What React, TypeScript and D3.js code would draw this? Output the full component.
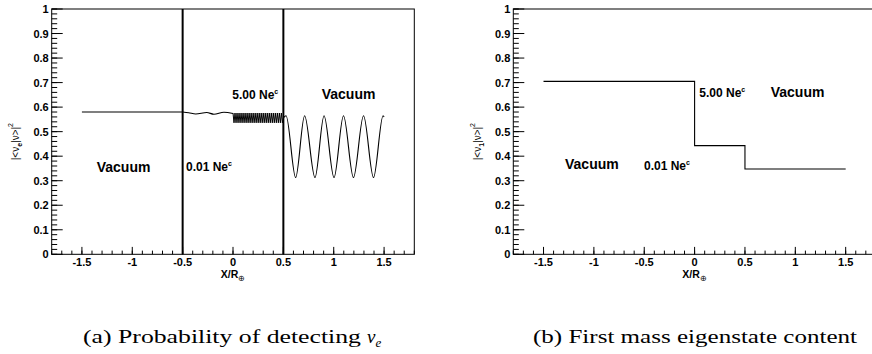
import React from 'react';
import * as d3 from 'd3';

// ---------- data ----------
const xMajorTicks = [-1.5, -1, -0.5, 0, 0.5, 1, 1.5];
const xTickLabels = ['-1.5', '-1', '-0.5', '0', '0.5', '1', '1.5'];
const yMajorTicks = [0, 0.1, 0.2, 0.3, 0.4, 0.5, 0.6, 0.7, 0.8, 0.9, 1];
const yTickLabels = ['0', '0.1', '0.2', '0.3', '0.4', '0.5', '0.6', '0.7', '0.8', '0.9', '1'];

// (a) probability of detecting nu_e
const nueFlat: [number, number][] = [[-1.5, 0.58], [-0.5, 0.58]];
const nueWiggle: [number, number][] = [
  [-0.5, 0.58], [-0.44, 0.577], [-0.37, 0.572], [-0.26, 0.578], [-0.19, 0.571], [-0.09, 0.579], [0, 0.574],
];
const nueDense: [number, number][] = [
  [0, 0.576], [0.01, 0.536], [0.02, 0.576], [0.03, 0.536], [0.04, 0.576], [0.05, 0.536],
  [0.06, 0.576], [0.07, 0.536], [0.08, 0.576], [0.09, 0.536], [0.1, 0.576], [0.11, 0.536],
  [0.12, 0.576], [0.13, 0.536], [0.14, 0.576], [0.15, 0.536], [0.16, 0.576], [0.17, 0.536],
  [0.18, 0.576], [0.19, 0.536], [0.2, 0.576], [0.21, 0.536], [0.22, 0.576], [0.23, 0.536],
  [0.24, 0.576], [0.25, 0.536], [0.26, 0.576], [0.27, 0.536], [0.28, 0.576], [0.29, 0.536],
  [0.3, 0.576], [0.31, 0.536], [0.32, 0.576], [0.33, 0.536], [0.34, 0.576], [0.35, 0.536],
  [0.36, 0.576], [0.37, 0.536], [0.38, 0.576], [0.39, 0.536], [0.4, 0.576], [0.41, 0.536],
  [0.42, 0.576], [0.43, 0.536], [0.44, 0.576], [0.45, 0.536], [0.46, 0.576], [0.47, 0.536],
  [0.48, 0.576], [0.49, 0.536], [0.5, 0.556],
];
const nueVacuum: [number, number][] = [
  [0.5, 0.556], [0.527, 0.565], [0.622, 0.313], [0.711, 0.565], [0.814, 0.313], [0.904, 0.565],
  [1.003, 0.313], [1.097, 0.565], [1.196, 0.313], [1.296, 0.565], [1.395, 0.313], [1.49, 0.565], [1.5, 0.56],
];
const densityBoundaries = [-0.5, 0.5];

// (b) first mass eigenstate content
const nu1Steps: [number, number][] = [[-1.5, 0.705], [0, 0.443], [0.5, 0.348], [1.5, 0.348]];

const captionA = '(a) Probability of detecting';
const captionB = '(b) First mass eigenstate content';

// ---------- layout ----------
const W = 872;
const H = 354;
const xDomain: [number, number] = [-1.8, 1.8];
const SANS = "'Liberation Sans', Arial, Helvetica, sans-serif";
const SERIF = "'Liberation Serif', 'DejaVu Serif', serif";

type PanelProps = {
  left: number;
  top: number;
  bottom: number;
  width: number;
  titleX: number;
  sub: string;
  children: (x: d3.ScaleLinear<number, number>, y: d3.ScaleLinear<number, number>) => React.ReactNode;
};

function Panel({ left, top, bottom, width, titleX, sub, children }: PanelProps) {
  const x = d3.scaleLinear().domain(xDomain).range([left, left + width]);
  const y = d3.scaleLinear().domain([0, 1]).range([bottom, top]);
  const xMinor = d3.range(-18, 19).map((i) => i / 10);
  const yMinor = d3.range(0, 51).map((i) => i / 50);
  const titleY = (top + bottom) / 2 + 10;
  return (
    <g>
      {children(x, y)}
      <rect x={left} y={top} width={width} height={bottom - top} fill="none" stroke="#000" strokeWidth={1} />
      {/* x ticks */}
      {xMinor.map((t, i) => (
        <line key={'xm' + i} x1={x(t)} x2={x(t)} y1={bottom} y2={bottom - 3.7} stroke="#000" strokeWidth={1} />
      ))}
      {xMajorTicks.map((t, i) => (
        <g key={'xM' + i}>
          <line x1={x(t)} x2={x(t)} y1={bottom} y2={bottom - 7.4} stroke="#000" strokeWidth={1} />
          <text x={x(t)} y={266} textAnchor="middle" fontFamily={SANS} fontWeight="bold" fontSize={11}>
            {xTickLabels[i]}
          </text>
        </g>
      ))}
      {/* y ticks */}
      {yMinor.map((t, i) => (
        <line key={'ym' + i} x1={left} x2={left + 5.5} y1={y(t)} y2={y(t)} stroke="#000" strokeWidth={1} />
      ))}
      {yMajorTicks.map((t, i) => (
        <g key={'yM' + i}>
          <line x1={left} x2={left + 11} y1={y(t)} y2={y(t)} stroke="#000" strokeWidth={1} />
          <text x={left - 3} y={y(t) + 4} textAnchor="end" fontFamily={SANS} fontWeight="bold" fontSize={11}>
            {yTickLabels[i]}
          </text>
        </g>
      ))}
      {/* x title */}
      <text x={x(0)} y={277.5} textAnchor="middle" fontFamily={SANS} fontWeight="bold" fontSize={10.5}>
        X/R<tspan dy={3.5} fontSize={7.5} fontWeight="normal">⊕</tspan>
      </text>
      {/* y title */}
      <text
        transform={`translate(${titleX},${titleY}) rotate(-90)`}
        textAnchor="middle"
        fontFamily={SANS}
        fontSize={10}
      >
        |&lt;ν<tspan dy={3} fontSize={7} fontWeight="bold">{sub}</tspan>
        <tspan dy={-3}>|ν&gt;|</tspan>
        <tspan dy={-6} fontSize={7}>2</tspan>
      </text>
    </g>
  );
}

function Label({ x, y, text, sup, size }: { x: number; y: number; text: string; sup?: string; size: number }) {
  return (
    <text x={x} y={y} fontFamily={SANS} fontWeight="bold" fontSize={size}>
      {text}
      {sup && (
        <tspan dy={-5} fontSize={7}>
          {sup}
        </tspan>
      )}
    </text>
  );
}

export default function App() {
  const curve = (x: d3.ScaleLinear<number, number>, y: d3.ScaleLinear<number, number>, c: d3.CurveFactory) =>
    d3
      .line<[number, number]>()
      .x((d) => x(d[0]))
      .y((d) => y(d[1]))
      .curve(c);

  return (
    <svg width={W} height={H} style={{ position: 'absolute', left: 0, top: 0, background: '#fff' }}>
      <rect x={0} y={0} width={W} height={H} fill="#fff" />
      <Panel left={51.7} top={9} bottom={254.3} width={362.6} titleX={19} sub="e">
        {(x, y) => (
          <g fill="none" stroke="#000">
            <path d={curve(x, y, d3.curveLinear)(nueFlat) || ''} strokeWidth={1.1} />
            <path d={curve(x, y, d3.curveMonotoneX)(nueWiggle) || ''} strokeWidth={1.1} />
            <path d={curve(x, y, d3.curveLinear)(nueDense) || ''} strokeWidth={1} />
            <path d={curve(x, y, d3.curveMonotoneX)(nueVacuum) || ''} strokeWidth={1.1} />
            {densityBoundaries.map((b) => (
              <line key={b} x1={x(b)} x2={x(b)} y1={y(0)} y2={y(1)} strokeWidth={2} />
            ))}
            <g stroke="none" fill="#000">
              <Label x={96.7} y={171.7} text="Vacuum" size={14} />
              <Label x={186} y={170.7} text="0.01 Ne" sup="c" size={12} />
              <Label x={232.3} y={99} text="5.00 Ne" sup="c" size={12} />
              <Label x={321.7} y={99} text="Vacuum" size={14} />
            </g>
          </g>
        )}
      </Panel>
      <Panel left={513.3} top={9} bottom={254.3} width={362.6} titleX={481} sub="1">
        {(x, y) => (
          <g fill="none" stroke="#000">
            <path d={curve(x, y, d3.curveStepAfter)(nu1Steps) || ''} strokeWidth={1.1} />
            <g stroke="none" fill="#000">
              <Label x={565} y={169.3} text="Vacuum" size={14} />
              <Label x={644} y={170} text="0.01 Ne" sup="c" size={12} />
              <Label x={699.3} y={96.7} text="5.00 Ne" sup="c" size={12} />
              <Label x={770.7} y={97.3} text="Vacuum" size={14} />
            </g>
          </g>
        )}
      </Panel>
      <text x={83} y={343} fontFamily={SERIF} fontSize={19} textLength={278} lengthAdjust="spacingAndGlyphs">
        {captionA}
      </text>
      <text x={367} y={343} fontFamily={SERIF} fontSize={19} fontStyle="italic">
        ν<tspan dy={4} fontSize={13}>e</tspan>
      </text>
      <text x={533} y={343} fontFamily={SERIF} fontSize={19} textLength={324} lengthAdjust="spacingAndGlyphs">
        {captionB}
      </text>
    </svg>
  );
}
